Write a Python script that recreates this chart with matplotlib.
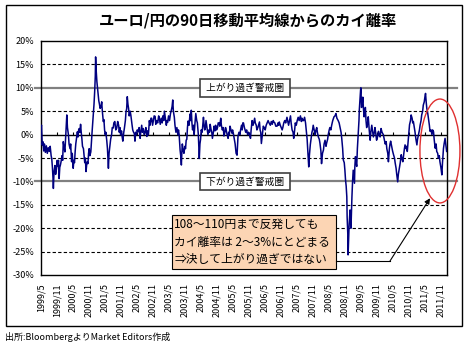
import numpy as np
import matplotlib.pyplot as plt
from matplotlib.patches import Ellipse, Rectangle

plt.rcParams['font.family'] = ['Noto Sans CJK JP', 'DejaVu Sans']
plt.rcParams['axes.unicode_minus'] = False

title = 'ユーロ/円の90日移動平均線からのカイ離率'
source = '出所:BloombergよりMarket Editors作成'
note = '108〜110円まで反発しても\nカイ離率は 2〜3%にとどまる\n⇒決して上がり過ぎではない'
upper_label = '上がり過ぎ警戒圏'
lower_label = '下がり過ぎ警戒圏'

tick_labels = ['1999/5', '1999/11', '2000/5', '2000/11', '2001/5', '2001/11',
               '2002/5', '2002/11', '2003/5', '2003/11', '2004/5', '2004/11',
               '2005/5', '2005/11', '2006/5', '2006/11', '2007/5', '2007/11',
               '2008/5', '2008/11', '2009/5', '2009/11', '2010/5', '2010/11',
               '2011/5', '2011/11']
y_ticks = [20, 15, 10, 5, 0, -5, -10, -15, -20, -25, -30]
dashed_levels = [15, 5, -5, -15, -20, -25]
warn_levels = [10, -10]

# (decimal year, deviation %)
y1999 = [(1999.33, 1.5), (1999.35, 2.0), (1999.37, -2.2), (1999.39, -1.5), (1999.42, -3.5),
         (1999.44, -2.0), (1999.47, -3.8), (1999.50, -2.4), (1999.53, -4.0), (1999.56, -2.8),
         (1999.59, -3.6), (1999.62, -2.5), (1999.65, -4.5), (1999.67, -5.2), (1999.69, -7.0),
         (1999.71, -9.5), (1999.72, -11.5), (1999.74, -8.0), (1999.77, -6.6), (1999.79, -8.5),
         (1999.82, -7.2), (1999.84, -5.5), (1999.86, -6.8), (1999.88, -5.5), (1999.90, -9.4),
         (1999.92, -7.0), (1999.94, -6.5), (1999.96, -5.8), (1999.99, -4.5)]
y2000 = [(2000.01, -5.5), (2000.03, -1.5), (2000.05, -2.5), (2000.08, -3.7), (2000.10, -1.0),
         (2000.12, 1.5), (2000.14, 4.2), (2000.16, 1.5), (2000.19, 0.0), (2000.21, -2.0),
         (2000.24, -3.0), (2000.26, -2.0), (2000.29, -5.8), (2000.31, -4.0), (2000.34, -7.2),
         (2000.36, -5.5), (2000.38, -6.0), (2000.40, -3.7), (2000.42, -2.0), (2000.45, -0.5),
         (2000.47, 0.6), (2000.49, -0.5), (2000.51, 1.0), (2000.53, 1.3), (2000.55, 0.5),
         (2000.57, 2.2), (2000.59, 0.5), (2000.61, -0.8), (2000.63, -2.5), (2000.66, -3.0),
         (2000.68, -4.4), (2000.70, -6.0), (2000.72, -5.0), (2000.74, -7.9), (2000.76, -6.5),
         (2000.78, -5.8), (2000.80, -6.2), (2000.82, -4.0), (2000.84, -3.0), (2000.86, -4.5),
         (2000.89, -3.7), (2000.91, -1.5), (2000.93, 0.6), (2000.95, 2.5), (2000.97, 4.2),
         (2000.99, 6.5)]
y2001 = [(2001.01, 9.1), (2001.03, 12.5), (2001.04, 16.6), (2001.06, 13.5), (2001.08, 11.3),
         (2001.10, 10.0), (2001.12, 8.5), (2001.14, 7.2), (2001.16, 6.5), (2001.18, 5.6),
         (2001.21, 6.0), (2001.23, 7.0), (2001.25, 5.0), (2001.28, 2.8), (2001.30, 3.2),
         (2001.32, 1.0), (2001.34, 0.0), (2001.36, 0.5), (2001.39, -1.4), (2001.41, -3.0),
         (2001.44, -7.2), (2001.46, -4.0), (2001.49, -2.2), (2001.51, -1.0), (2001.54, 0.0),
         (2001.56, 1.5), (2001.59, 1.4), (2001.61, 2.5), (2001.64, 2.8), (2001.67, 1.0),
         (2001.70, 1.4), (2001.73, 2.8), (2001.76, 2.0), (2001.78, 0.5), (2001.80, 1.5),
         (2001.82, 0.0), (2001.85, 0.8), (2001.87, -0.5), (2001.89, -1.4), (2001.92, 0.5),
         (2001.94, 1.4), (2001.97, 3.0), (2001.99, 4.9)]
y2002 = [(2002.01, 5.5), (2002.03, 8.1), (2002.05, 6.5), (2002.07, 5.6), (2002.09, 4.0),
         (2002.12, 5.0), (2002.14, 4.2), (2002.16, 3.0), (2002.18, 2.0), (2002.20, 1.0),
         (2002.22, 0.6), (2002.25, 0.2), (2002.27, -1.4), (2002.29, 0.5), (2002.32, 0.0),
         (2002.34, 1.0), (2002.37, 0.6), (2002.40, 1.5), (2002.43, -0.8), (2002.45, 0.5),
         (2002.48, 2.0), (2002.50, 0.5), (2002.53, 1.3), (2002.56, 0.0), (2002.59, 0.6),
         (2002.61, 1.5), (2002.64, -0.4), (2002.66, 0.8), (2002.69, 0.0), (2002.72, 3.0),
         (2002.74, 2.0), (2002.77, 3.5), (2002.79, 3.5), (2002.82, 2.0), (2002.84, 2.8),
         (2002.87, 4.0), (2002.90, 3.9), (2002.92, 2.2), (2002.95, 3.0), (2002.98, 2.5)]
y2003 = [(2003.01, 4.0), (2003.03, 3.5), (2003.06, 2.2), (2003.09, 3.5), (2003.12, 2.5),
         (2003.14, 4.0), (2003.17, 3.0), (2003.19, 5.0), (2003.22, 3.5), (2003.25, 2.0),
         (2003.27, 3.0), (2003.29, 2.6), (2003.32, 4.0), (2003.35, 3.0), (2003.38, 4.5),
         (2003.40, 5.0), (2003.43, 6.0), (2003.45, 7.4), (2003.47, 5.0), (2003.50, 3.7),
         (2003.52, 2.0), (2003.55, 0.5), (2003.58, 1.5), (2003.61, 0.0), (2003.63, 1.0),
         (2003.65, 0.0), (2003.68, -3.3), (2003.70, -4.5), (2003.72, -6.5), (2003.74, -3.0),
         (2003.75, -2.0), (2003.78, -3.5), (2003.80, -4.0), (2003.83, -2.5), (2003.85, -3.0),
         (2003.87, -1.2), (2003.89, -1.0), (2003.91, 1.5), (2003.93, 2.9), (2003.96, 2.0),
         (2003.99, 4.4)]
y2004 = [(2004.01, 3.0), (2004.03, 5.2), (2004.05, 2.5), (2004.07, 1.0), (2004.10, 2.0),
         (2004.12, 0.0), (2004.14, 2.0), (2004.17, 4.5), (2004.20, 3.0), (2004.22, 2.5),
         (2004.25, 0.0), (2004.28, -5.1), (2004.30, -2.0), (2004.32, -1.0), (2004.34, 1.0),
         (2004.37, 0.5), (2004.39, 2.0), (2004.41, 3.7), (2004.43, 2.0), (2004.45, 1.0),
         (2004.47, 1.5), (2004.49, 3.0), (2004.52, 1.5), (2004.55, 0.0), (2004.58, 1.0),
         (2004.60, 0.5), (2004.62, 2.2), (2004.65, 1.0), (2004.67, 0.5), (2004.69, -0.8),
         (2004.72, 0.5), (2004.74, 1.8), (2004.77, 0.8), (2004.79, 2.0), (2004.82, 1.0),
         (2004.85, 1.5), (2004.87, 2.5), (2004.90, 2.5), (2004.92, 1.8), (2004.95, 3.5),
         (2004.97, 2.0)]
y2005 = [(2005.00, 1.0), (2005.03, 1.5), (2005.05, -0.3), (2005.08, 0.5), (2005.10, 1.5),
         (2005.12, 1.0), (2005.15, 0.0), (2005.18, -0.8), (2005.20, 0.5), (2005.22, 0.0),
         (2005.24, 1.8), (2005.27, 1.0), (2005.30, 0.3), (2005.32, 1.0), (2005.35, 0.0),
         (2005.37, -0.8), (2005.40, -2.0), (2005.43, -4.0), (2005.46, -4.4), (2005.48, -1.5),
         (2005.49, -0.3), (2005.52, 0.5), (2005.55, 0.0), (2005.57, 1.0), (2005.60, 2.0),
         (2005.62, 1.0), (2005.64, 2.5), (2005.66, 2.5), (2005.69, 1.5), (2005.71, 1.0),
         (2005.73, 0.5), (2005.76, 1.0), (2005.79, 0.0), (2005.82, 0.5), (2005.85, 0.0),
         (2005.88, -0.8), (2005.90, 1.0), (2005.93, 3.0), (2005.96, 2.0), (2005.98, 2.5)]
y2006 = [(2006.01, 3.5), (2006.03, 2.5), (2006.06, 2.0), (2006.08, 1.0), (2006.11, 1.5),
         (2006.13, 2.0), (2006.16, 2.7), (2006.18, 1.0), (2006.20, 0.5), (2006.22, -1.9),
         (2006.25, 0.0), (2006.28, 1.8), (2006.31, 1.5), (2006.34, 1.0), (2006.37, 2.0),
         (2006.40, 2.5), (2006.43, 3.0), (2006.46, 2.5), (2006.50, 2.0), (2006.53, 2.8),
         (2006.56, 2.2), (2006.59, 3.0), (2006.61, 2.7), (2006.64, 2.5), (2006.67, 1.8),
         (2006.71, 1.8), (2006.74, 2.5), (2006.76, 2.0), (2006.78, 2.7), (2006.81, 2.0),
         (2006.84, 1.5), (2006.87, 1.0), (2006.89, 1.5), (2006.92, 2.5), (2006.95, 3.0),
         (2006.98, 2.5)]
y2007 = [(2007.02, 3.7), (2007.04, 3.0), (2007.07, 2.0), (2007.10, 3.0), (2007.13, 4.0),
         (2007.15, 2.5), (2007.18, 1.0), (2007.21, 0.5), (2007.23, -0.8), (2007.26, 1.0),
         (2007.28, 2.5), (2007.31, 2.0), (2007.34, 3.0), (2007.37, 3.7), (2007.40, 3.0),
         (2007.42, 3.5), (2007.44, 4.0), (2007.47, 2.8), (2007.49, 3.5), (2007.51, 3.0),
         (2007.54, 3.0), (2007.57, 3.7), (2007.60, 2.5), (2007.62, 1.0), (2007.65, -1.0),
         (2007.67, -3.3), (2007.70, -6.9), (2007.72, -4.5), (2007.75, -2.1), (2007.77, -1.0),
         (2007.80, 0.5), (2007.82, 1.0), (2007.84, 2.0), (2007.87, 1.0), (2007.90, 0.0),
         (2007.92, 0.8), (2007.95, 1.5), (2007.97, 0.5)]
y2008 = [(2008.00, -0.5), (2008.03, -1.0), (2008.05, -1.8), (2008.08, -3.5), (2008.10, -6.2),
         (2008.13, -4.0), (2008.16, -3.3), (2008.18, -2.0), (2008.21, -1.2), (2008.24, -2.5),
         (2008.26, -1.8), (2008.29, -1.0), (2008.31, 0.0), (2008.34, 1.0), (2008.36, 1.5),
         (2008.39, 1.0), (2008.42, 2.1), (2008.45, 3.0), (2008.49, 3.8), (2008.52, 4.0),
         (2008.55, 4.5), (2008.58, 3.5), (2008.62, 3.0), (2008.65, 2.5), (2008.68, 1.5),
         (2008.71, 0.5), (2008.73, -0.7), (2008.76, -3.0), (2008.78, -5.4), (2008.81, -6.0),
         (2008.83, -7.6), (2008.85, -9.7), (2008.87, -11.0), (2008.89, -13.3), (2008.90, -17.6),
         (2008.92, -21.1), (2008.93, -25.7), (2008.95, -22.0), (2008.96, -19.7), (2008.98, -17.5),
         (2008.99, -16.1)]
y2009 = [(2009.01, -18.0), (2009.02, -20.0), (2009.04, -15.5), (2009.05, -13.3), (2009.07, -10.0),
         (2009.09, -7.6), (2009.11, -9.0), (2009.13, -10.4), (2009.14, -7.0), (2009.16, -4.7),
         (2009.18, -6.0), (2009.20, -6.8), (2009.22, -3.0), (2009.25, 0.7), (2009.27, 3.0),
         (2009.28, 5.2), (2009.30, 7.5), (2009.32, 9.5), (2009.33, 10.0), (2009.35, 5.8),
         (2009.37, 6.5), (2009.39, 8.0), (2009.41, 5.5), (2009.43, 3.8), (2009.45, 4.5),
         (2009.47, 5.8), (2009.49, 3.0), (2009.51, 1.5), (2009.54, 2.5), (2009.56, 3.8),
         (2009.59, 1.0), (2009.62, -1.2), (2009.64, 0.5), (2009.67, 2.0), (2009.70, 0.5),
         (2009.72, -0.5), (2009.75, 0.5), (2009.77, 1.5), (2009.80, 0.0), (2009.82, -1.2),
         (2009.85, -0.5), (2009.88, 0.7), (2009.90, 0.0), (2009.93, -0.5), (2009.96, 1.3),
         (2009.99, 0.5)]
y2010 = [(2010.03, 0.0), (2010.06, -1.0), (2010.09, -2.0), (2010.12, -1.5), (2010.14, -3.0),
         (2010.17, -4.0), (2010.19, -5.8), (2010.22, -3.0), (2010.24, -2.0), (2010.26, -1.4),
         (2010.29, -2.5), (2010.32, -3.5), (2010.35, -4.3), (2010.38, -5.0), (2010.40, -6.0),
         (2010.43, -7.2), (2010.45, -8.5), (2010.48, -10.1), (2010.50, -8.5), (2010.53, -7.2),
         (2010.56, -6.0), (2010.59, -4.3), (2010.61, -5.0), (2010.64, -5.8), (2010.67, -4.0),
         (2010.69, -3.0), (2010.71, -2.2), (2010.74, -3.0), (2010.76, -2.5), (2010.78, -3.6),
         (2010.81, -1.0), (2010.83, 0.5), (2010.85, 2.1), (2010.88, 3.0), (2010.90, 4.2),
         (2010.93, 3.5), (2010.95, 2.5), (2010.97, 2.8)]
y2011 = [(2011.00, 1.5), (2011.02, 0.6), (2011.05, -1.0), (2011.08, -2.2), (2011.10, -1.0),
         (2011.13, 0.0), (2011.16, 1.0), (2011.18, 2.0), (2011.21, 3.0), (2011.23, 4.2),
         (2011.26, 5.0), (2011.28, 6.3), (2011.31, 7.0), (2011.33, 8.0), (2011.35, 8.8),
         (2011.37, 7.0), (2011.39, 5.6), (2011.42, 4.5), (2011.44, 3.5), (2011.47, 2.0),
         (2011.49, 0.7), (2011.52, 1.0), (2011.55, 0.0), (2011.57, 1.0), (2011.60, 0.6),
         (2011.62, -1.0), (2011.65, -2.9), (2011.68, -2.0), (2011.70, -3.6), (2011.73, -4.0),
         (2011.75, -5.0), (2011.78, -4.5), (2011.80, -5.8), (2011.83, -7.0), (2011.86, -8.6),
         (2011.88, -6.0), (2011.91, -3.0), (2011.93, -2.0), (2011.96, -0.8), (2011.98, -2.0),
         (2012.01, -3.6)]

series = y1999 + y2000 + y2001 + y2002 + y2003 + y2004 + y2005 + y2006 + y2007 + y2008 + y2009 + y2010 + y2011
dates = np.array([p[0] for p in series])
values = np.array([p[1] for p in series])

tick_pos = [int(s.split('/')[0]) + (int(s.split('/')[1]) - 1) / 12 for s in tick_labels]

W, H = 465, 344
fig = plt.figure(figsize=(W / 100, H / 100), dpi=100)
ax = fig.add_axes([41 / W, (H - 275) / H, 406 / W, 234 / H])
x0 = tick_pos[0]
x1 = x0 + 406 / 32
ax.set_xlim(x0, x1)
ax.set_ylim(-30, 20)

for lv in dashed_levels:
    ax.axhline(lv, color='black', lw=0.8, ls=(0, (3, 2)), zorder=1)
ax.axhline(0, color='black', lw=1.0, zorder=1)
ax.vlines(tick_pos, 0, 0.6, color='black', lw=0.8, zorder=1)
for lv in warn_levels:
    ax.plot([x0 - 0.19, x1 + 0.31], [lv, lv], color='#808080', lw=1.6,
            clip_on=False, zorder=1)

ax.plot(dates, values, color='#000080', lw=1.1, zorder=3)

ax.set_yticks(y_ticks)
ax.set_yticklabels(['%d%%' % v for v in y_ticks], fontsize=6.5)
ax.set_xticks(tick_pos)
ax.set_xticklabels(tick_labels, rotation=90, fontsize=6.5)
ax.tick_params(axis='both', length=0)
ax.tick_params(axis='x', pad=6)
ax.tick_params(axis='y', pad=5)
for sp in ax.spines.values():
    sp.set_linewidth(1.0)

box_x = x0 + (245 - 41) / 32
for lv, lab in zip(warn_levels, [upper_label, lower_label]):
    ax.text(box_x, lv, ' ' + lab + ' ', ha='center', va='center', fontsize=7, zorder=5,
            bbox=dict(boxstyle='square,pad=0.4', fc='white', ec='#404040', lw=1.2))

# orange comment box with arrow
ax.add_patch(Rectangle((2003.43, -28.8), 5.12, 11.6, fc='#FCD5B4', ec='black',
                       lw=0.8, zorder=4, clip_on=False))
ax.text(2003.50, -23.0, note, ha='left', va='center', fontsize=8.5, linespacing=1.45,
        zorder=5)
ax.plot([2008.55, 2010.24], [-27.0, -27.0], color='black', lw=0.8, zorder=4)
ax.annotate('', xy=(2011.49, -13.6), xytext=(2010.24, -27.0),
            arrowprops=dict(arrowstyle='-|>', color='black', lw=0.8, mutation_scale=8,
                            shrinkA=0, shrinkB=0), zorder=4)
ax.add_patch(Ellipse((2011.80, -3.5), 1.25, 22.2, fill=False, ec='#E03030', lw=1.0,
                     clip_on=False, zorder=6))

fig.add_artist(Rectangle((6 / W, (H - 326) / H), 456 / W, 321 / H, transform=fig.transFigure,
                         fill=False, ec='black', lw=1.0))
fig.text(248 / W, (H - 20) / H, title, ha='center', va='center', fontsize=11,
         fontweight='bold')
fig.text(5 / W, (H - 337) / H, source, ha='left', va='center', fontsize=6.5)

fig.savefig('out.png', dpi=100)
